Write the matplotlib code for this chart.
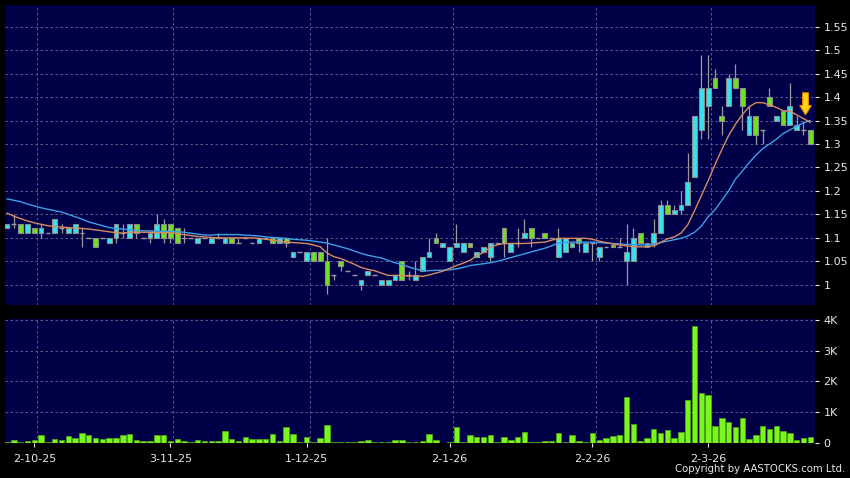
import matplotlib.pyplot as plt
import matplotlib.patches as mpatches
import numpy as np

# date labels (trading-day index of each label)
tick_labels = ['2-10-25', '3-11-25', '1-12-25', '2-1-26', '2-2-26', '2-3-26']
tick_index = [4, 24, 44, 65, 86, 103]

opens = [1.12, 1.13, 1.13, 1.11, 1.12, 1.11, 1.11, 1.11, 1.12, 1.11,
         1.11, 1.11, 1.10, 1.10, 1.10, 1.09, 1.10, 1.11, 1.10, 1.13,
         1.10, 1.10, 1.10, 1.13, 1.13, 1.12, 1.10, 1.10, 1.09, 1.10,
         1.09, 1.10, 1.09, 1.10, 1.09, 1.10, 1.09, 1.09, 1.10, 1.10,
         1.09, 1.10, 1.06, 1.07, 1.05, 1.07, 1.07, 1.05, 1.02, 1.05,
         1.03, 1.02, 1.00, 1.02, 1.02, 1.00, 1.00, 1.01, 1.05, 1.02,
         1.01, 1.03, 1.06, 1.10, 1.08, 1.05, 1.08, 1.07, 1.09, 1.06,
         1.07, 1.06, 1.09, 1.12, 1.07, 1.09, 1.10, 1.12, 1.10, 1.11,
         1.10, 1.06, 1.07, 1.08, 1.10, 1.07, 1.09, 1.06, 1.08, 1.085,
         1.08, 1.05, 1.05, 1.11, 1.08, 1.09, 1.11, 1.17, 1.15, 1.16,
         1.17, 1.23, 1.33, 1.38, 1.44, 1.36, 1.38, 1.44, 1.42, 1.32,
         1.36, 1.33, 1.40, 1.35, 1.37, 1.34, 1.33, 1.33, 1.33]
highs = [1.13, 1.15, 1.13, 1.13, 1.12, 1.13, 1.11, 1.14, 1.13, 1.12,
         1.13, 1.12, 1.10, 1.10, 1.10, 1.10, 1.13, 1.13, 1.13, 1.13,
         1.10, 1.11, 1.15, 1.14, 1.13, 1.12, 1.12, 1.10, 1.10, 1.10,
         1.10, 1.11, 1.10, 1.10, 1.10, 1.105, 1.09, 1.10, 1.10, 1.10,
         1.10, 1.10, 1.07, 1.07, 1.07, 1.07, 1.07, 1.10, 1.02, 1.05,
         1.03, 1.02, 1.01, 1.03, 1.02, 1.01, 1.01, 1.02, 1.05, 1.03,
         1.05, 1.06, 1.10, 1.11, 1.09, 1.08, 1.13, 1.09, 1.09, 1.07,
         1.08, 1.09, 1.09, 1.12, 1.09, 1.12, 1.14, 1.12, 1.10, 1.11,
         1.10, 1.12, 1.10, 1.09, 1.10, 1.09, 1.09, 1.08, 1.08, 1.09,
         1.10, 1.13, 1.12, 1.11, 1.09, 1.14, 1.18, 1.18, 1.17, 1.20,
         1.28, 1.36, 1.49, 1.49, 1.46, 1.38, 1.45, 1.47, 1.42, 1.38,
         1.36, 1.33, 1.42, 1.36, 1.37, 1.43, 1.36, 1.35, 1.33]
lows = [1.12, 1.12, 1.11, 1.11, 1.11, 1.10, 1.11, 1.11, 1.11, 1.11,
        1.11, 1.08, 1.10, 1.08, 1.10, 1.09, 1.09, 1.10, 1.10, 1.10,
        1.10, 1.09, 1.10, 1.09, 1.09, 1.09, 1.09, 1.10, 1.09, 1.10,
        1.09, 1.10, 1.09, 1.09, 1.09, 1.10, 1.09, 1.09, 1.10, 1.09,
        1.09, 1.08, 1.06, 1.07, 1.05, 1.05, 1.05, 0.98, 1.01, 1.03,
        1.03, 1.02, 0.99, 1.02, 1.02, 1.00, 1.00, 1.01, 1.01, 1.01,
        1.01, 1.03, 1.06, 1.09, 1.08, 1.05, 1.08, 1.07, 1.08, 1.06,
        1.07, 1.05, 1.09, 1.06, 1.07, 1.08, 1.10, 1.08, 1.10, 1.10,
        1.10, 1.06, 1.07, 1.08, 1.07, 1.07, 1.05, 1.05, 1.08, 1.08,
        1.08, 1.00, 1.05, 1.09, 1.08, 1.08, 1.11, 1.15, 1.15, 1.15,
        1.17, 1.23, 1.31, 1.31, 1.42, 1.32, 1.38, 1.42, 1.33, 1.32,
        1.30, 1.30, 1.38, 1.35, 1.34, 1.34, 1.33, 1.32, 1.30]
closes = [1.13, 1.13, 1.11, 1.13, 1.11, 1.12, 1.11, 1.14, 1.12, 1.12,
          1.13, 1.11, 1.10, 1.08, 1.10, 1.10, 1.13, 1.11, 1.13, 1.11,
          1.10, 1.11, 1.13, 1.10, 1.10, 1.09, 1.10, 1.10, 1.10, 1.10,
          1.10, 1.10, 1.10, 1.09, 1.09, 1.10, 1.09, 1.10, 1.10, 1.09,
          1.10, 1.09, 1.07, 1.07, 1.07, 1.05, 1.05, 1.00, 1.02, 1.04,
          1.03, 1.02, 1.01, 1.03, 1.02, 1.01, 1.01, 1.02, 1.01, 1.02,
          1.02, 1.06, 1.07, 1.09, 1.09, 1.08, 1.09, 1.09, 1.08, 1.07,
          1.08, 1.09, 1.09, 1.09, 1.09, 1.09, 1.11, 1.10, 1.10, 1.10,
          1.10, 1.10, 1.10, 1.09, 1.09, 1.09, 1.09, 1.08, 1.08, 1.08,
          1.08, 1.07, 1.10, 1.09, 1.09, 1.11, 1.17, 1.15, 1.16, 1.17,
          1.22, 1.36, 1.42, 1.42, 1.42, 1.35, 1.44, 1.42, 1.38, 1.36,
          1.32, 1.33, 1.38, 1.36, 1.34, 1.38, 1.34, 1.33, 1.30]
# volume in thousands
volume = [0.03, 0.08, 0.01, 0.06, 0.10, 0.24, 0.02, 0.11, 0.08, 0.22,
          0.16, 0.31, 0.26, 0.14, 0.11, 0.14, 0.14, 0.25, 0.29, 0.08,
          0.04, 0.06, 0.24, 0.24, 0.04, 0.11, 0.04, 0.02, 0.09, 0.04,
          0.04, 0.04, 0.38, 0.11, 0.06, 0.20, 0.13, 0.13, 0.11, 0.29,
          0.04, 0.50, 0.27, 0.02, 0.17, 0.02, 0.14, 0.58, 0.03, 0.01,
          0.01, 0.03, 0.05, 0.08, 0.01, 0.01, 0.03, 0.10, 0.10, 0.01,
          0.03, 0.07, 0.27, 0.10, 0.00, 0.01, 0.52, 0.03, 0.24, 0.17,
          0.17, 0.26, 0.02, 0.20, 0.09, 0.18, 0.35, 0.03, 0.03, 0.06,
          0.04, 0.31, 0.01, 0.26, 0.05, 0.03, 0.31, 0.08, 0.14, 0.22,
          0.24, 1.48, 0.60, 0.07, 0.14, 0.45, 0.32, 0.42, 0.14, 0.35,
          1.38, 3.80, 1.61, 1.56, 0.53, 0.81, 0.66, 0.52, 0.80, 0.12,
          0.26, 0.56, 0.46, 0.53, 0.37, 0.31, 0.10, 0.15, 0.18]
# moving averages as drawn on the chart
ma10 = [1.153, 1.146, 1.141, 1.136, 1.132, 1.129, 1.126, 1.124, 1.123, 1.122,
        1.121, 1.120, 1.119, 1.117, 1.115, 1.113, 1.111, 1.110, 1.112, 1.112,
        1.112, 1.112, 1.111, 1.111, 1.111, 1.109, 1.107, 1.105, 1.103, 1.102,
        1.101, 1.100, 1.100, 1.100, 1.100, 1.100, 1.100, 1.099, 1.097, 1.095,
        1.093, 1.091, 1.090, 1.089, 1.088, 1.085, 1.081, 1.068, 1.060, 1.056,
        1.050, 1.044, 1.037, 1.033, 1.030, 1.025, 1.020, 1.020, 1.020, 1.019,
        1.019, 1.018, 1.021, 1.025, 1.029, 1.035, 1.041, 1.046, 1.052, 1.062,
        1.069, 1.080, 1.085, 1.088, 1.088, 1.088, 1.088, 1.089, 1.090, 1.091,
        1.095, 1.099, 1.099, 1.099, 1.099, 1.099, 1.097, 1.093, 1.090, 1.087,
        1.085, 1.083, 1.081, 1.081, 1.081, 1.083, 1.090, 1.098, 1.102, 1.110,
        1.128, 1.158, 1.190, 1.222, 1.256, 1.288, 1.318, 1.342, 1.362, 1.379,
        1.388, 1.388, 1.383, 1.378, 1.371, 1.370, 1.362, 1.354, 1.346]
ma20 = [1.183, 1.180, 1.177, 1.172, 1.168, 1.164, 1.161, 1.158, 1.155, 1.150,
        1.145, 1.140, 1.134, 1.130, 1.126, 1.122, 1.120, 1.119, 1.117, 1.116,
        1.115, 1.115, 1.114, 1.114, 1.114, 1.113, 1.112, 1.110, 1.108, 1.106,
        1.106, 1.107, 1.107, 1.107, 1.107, 1.106, 1.105, 1.104, 1.102, 1.101,
        1.100, 1.099, 1.097, 1.096, 1.095, 1.093, 1.091, 1.089, 1.085, 1.081,
        1.077, 1.072, 1.067, 1.063, 1.060, 1.057, 1.052, 1.047, 1.043, 1.038,
        1.034, 1.030, 1.030, 1.031, 1.031, 1.032, 1.034, 1.037, 1.041, 1.043,
        1.045, 1.047, 1.050, 1.054, 1.058, 1.062, 1.066, 1.070, 1.074, 1.078,
        1.083, 1.089, 1.090, 1.091, 1.091, 1.091, 1.091, 1.090, 1.089, 1.088,
        1.087, 1.086, 1.086, 1.085, 1.085, 1.086, 1.090, 1.093, 1.096, 1.099,
        1.104, 1.112, 1.125, 1.145, 1.160, 1.180, 1.200, 1.225, 1.242, 1.260,
        1.276, 1.290, 1.300, 1.310, 1.322, 1.330, 1.338, 1.345, 1.350]

BG = '#000048'
UP = '#33e4ee'
DOWN = '#6fe21c'
VOLC = '#7af51e'
WICK = '#9a9a9a'
GRID = '#6a6a90'
TXT = '#e8e8e8'

x = np.arange(len(closes))
o = np.array(opens); h = np.array(highs); l = np.array(lows); c = np.array(closes)

fig = plt.figure(figsize=(8.5, 4.78), dpi=100, facecolor='black')
ax = fig.add_axes([0.0059, 0.3619, 0.953, 0.6276], facecolor=BG)
axv = fig.add_axes([0.0059, 0.0732, 0.953, 0.2594], facecolor=BG)

# price panel
for a in (ax, axv):
    for s in a.spines.values():
        s.set_visible(False)
    a.set_xlim(-0.3, 118.7)

ax.set_ylim(0.957, 1.596)
for p in np.arange(1.0, 1.56, 0.05):
    ax.axhline(p, color=GRID, lw=0.6, ls=(0, (3, 3)), zorder=0)
for t in tick_index:
    ax.axvline(t + 0.45, color=GRID, lw=0.6, ls=(0, (3, 3)), zorder=0)
    axv.axvline(t + 0.45, color=GRID, lw=0.6, ls=(0, (3, 3)), zorder=0)

ax.vlines(x, l, h, color=WICK, lw=0.9, zorder=2)
body_w = 0.7
for i in range(len(x)):
    if abs(c[i] - o[i]) < 1e-9:
        ax.hlines(o[i], x[i] - body_w / 2, x[i] + body_w / 2, color=WICK, lw=1.0, zorder=3)
    else:
        col = UP if c[i] > o[i] else DOWN
        ax.bar(x[i], abs(c[i] - o[i]), bottom=min(o[i], c[i]), width=body_w,
               color=col, edgecolor='#8c8c8c', lw=0.8, zorder=3)

ax.plot(x, ma20, color='#3d9fe6', lw=1.0, zorder=4)
ax.plot(x, ma10, color='#d98a5e', lw=1.0, zorder=4)

# down arrow near the last bars
arr = mpatches.FancyArrow(117.3, 1.409, 0, -0.047, width=0.85, head_width=1.7,
                          head_length=0.02, length_includes_head=True,
                          facecolor='#ffd21a', edgecolor='#e08a00', lw=0.8, zorder=5)
ax.add_patch(arr)

ax.yaxis.tick_right()
ax.set_yticks(np.arange(1.0, 1.56, 0.05))
ax.set_yticklabels(['1', '1.05', '1.1', '1.15', '1.2', '1.25', '1.3', '1.35', '1.4',
                    '1.45', '1.5', '1.55'])
ax.tick_params(axis='y', colors=TXT, labelsize=8, length=3, width=0.8, pad=3)
ax.set_xticks([])

# volume panel
axv.set_ylim(-0.01, 4.03)
for v in [1, 2, 3, 4]:
    axv.axhline(v, color=GRID, lw=0.6, ls=(0, (3, 3)), zorder=0)
axv.bar(x, volume, width=0.8, color=VOLC, edgecolor='#4fb010', lw=0.5, zorder=3)
axv.yaxis.tick_right()
axv.set_yticks([0, 1, 2, 3, 4])
axv.set_yticklabels(['0', '1K', '2K', '3K', '4K'])
axv.tick_params(axis='y', colors=TXT, labelsize=8, length=3, width=0.8, pad=3)
axv.set_xticks(tick_index)
axv.set_xticklabels(tick_labels)
axv.tick_params(axis='x', colors=TXT, labelsize=8, length=3, width=0.8, pad=5)

fig.text(0.994, 0.008, 'Copyright by AASTOCKS.com Ltd.', color=TXT, fontsize=7.3,
         ha='right', va='bottom')

fig.savefig('out.png', dpi=100, facecolor='black')
